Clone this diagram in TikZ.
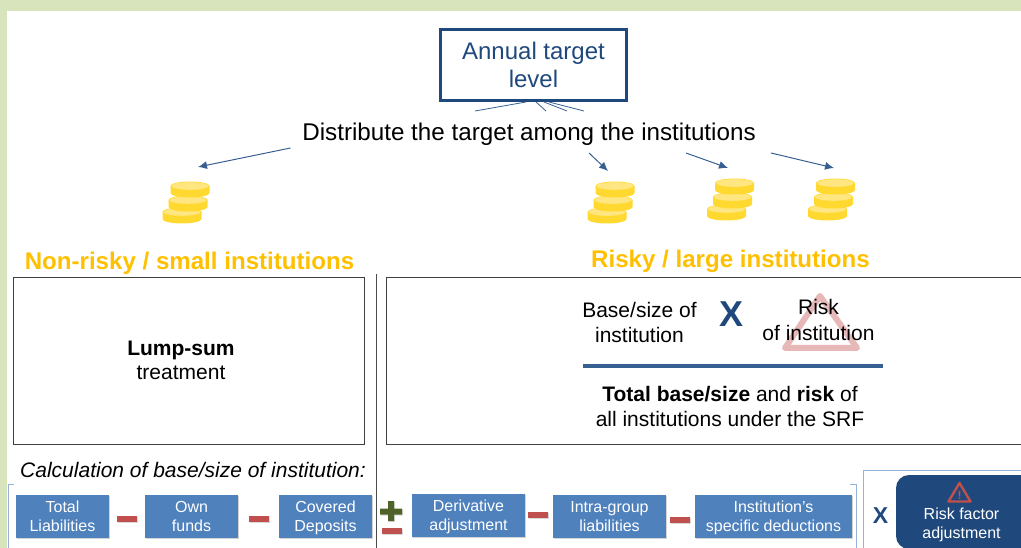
\documentclass[tikz,border=0pt]{standalone}
\usepackage{fontspec}
\setmainfont{Liberation Sans}
\usetikzlibrary{arrows.meta,shadows}

\definecolor{darkblue}{HTML}{1F497D}
\definecolor{midblue}{HTML}{4F81BD}
\definecolor{lineblue}{HTML}{376092}
\definecolor{minusred}{HTML}{C0504D}
\definecolor{plusgreen}{HTML}{4F6228}
\definecolor{headgold}{HTML}{FFC000}
\definecolor{coinbody}{HTML}{FFD92F}
\definecolor{cointop}{HTML}{FFE680}
\definecolor{bandgreen}{HTML}{D8E4BC}
\definecolor{paleblue}{HTML}{95B3D7}
\definecolor{warnpale}{HTML}{E6B9B8}

\newcommand{\fsz}[1]{\fontsize{#1}{#1}\selectfont}

\tikzset{
    termbox/.style={draw=none,fill=midblue,text=white,font=\fsz{16},align=center,inner sep=0pt,
        text depth=0pt,drop shadow={shadow xshift=1pt,shadow yshift=-1pt,opacity=0.35}},
    headtext/.style={text=headgold,font=\bfseries\fsz{24.1}},
    bodytext/.style={align=center,text depth=0pt,font=\fsz{21}},
    signbar/.style={fill=minusred,drop shadow={shadow xshift=1pt,shadow yshift=-1pt,opacity=0.3}},
    framed/.style={draw=black!75,line width=0.8pt},
    bracket/.style={draw=paleblue,line width=1pt},
    flowarrow/.style={draw=lineblue,line width=1pt,-{Latex[length=9pt,width=8pt]}},
    stub/.style={draw=lineblue,line width=0.8pt},
    coinstack/.pic={
        \foreach \dx/\dy in {-8/26,-2/14,0/0} {
            \fill[coinbody] (\dx-19.5,\dy) --++(0,7) arc[start angle=180,end angle=0,x radius=19.5,y radius=4.5] --++(0,-7) --cycle;
            \fill[coinbody] (\dx,\dy) ellipse[x radius=19.5,y radius=4.5];
            \fill[cointop] (\dx,\dy) ellipse[x radius=18.5,y radius=3.8];
        }
    }
}

\begin{document}
\begin{tikzpicture}[x=1pt,y=-1pt]
    \useasboundingbox (0,0) rectangle (1021,548);
    \clip (0,0) rectangle (1021,548);

    % page band
    \fill[bandgreen] (0,0) rectangle (1021,11);
    \fill[bandgreen] (0,0) rectangle (7,548);

    % target
    \node[draw=darkblue,line width=3.5pt,minimum width=186pt,minimum height=71pt,align=center,
        text=darkblue,font=\fsz{24},inner sep=0pt] (target) at (533.5,65) {Annual target\\[4pt]level};
    \coordinate (stubA) at (475,111);
    \coordinate (stubB) at (546,111);
    \coordinate (stubC) at (567,111);
    \coordinate (stubD) at (584,111);
    \draw[stub] (526,102)--(stubA);
    \draw[stub] (536,102)--(stubB);
    \draw[stub] (544,102)--(stubC);
    \draw[stub] (549,102)--(stubD);

    \node[font=\fsz{24.2},inner sep=0pt] (distribute) at (529,134.5) {Distribute the target among the institutions};

    % coins
    \foreach \x/\y/\n in {190/186/A,615/186/B,734.5/183/C,835.5/183/D} {
        \pic (coins\n) at (\x,\y) {coinstack};
    }
    \coordinate (tipA) at (198,167);
    \coordinate (tipB) at (608,171);
    \coordinate (tipC) at (728,168);
    \coordinate (tipD) at (834,168);
    \draw[flowarrow] (290.5,148)--(tipA);
    \draw[flowarrow] (589,153)--(tipB);
    \draw[flowarrow] (686,153)--(tipC);
    \draw[flowarrow] (771,153)--(tipD);

    % headings
    \node[headtext] (nonrisky) at (189.5,263.5) {Non-risky / small institutions};
    \node[headtext] (risky) at (730.5,261.5) {Risky / large institutions};

    % panels
    \draw[framed] (13,277) rectangle (364,444);
    \draw[framed] (1030,277)--(386,277)--(386,444)--(1030,444);
    \draw[black!70,line width=0.8pt] (376,274)--(376,548);

    \node[bodytext] (lump) at (181,360) {\textbf{Lump-sum}\\[3pt]treatment};

    \draw[warnpale,line width=6pt,line join=round] (820,296)--(857,348)--(785,348)--cycle;
    \node[bodytext,font=\fsz{21}] (base) at (639.5,322) {Base/size of\\[4pt]institution};
    \node[text=darkblue,font=\bfseries\fsz{36},inner sep=0pt] (times) at (732,314) {X};
    \node[bodytext] (risk) at (818.5,320) {Risk\\[5pt]of institution};
    \draw[lineblue,line width=4pt] (583,365.5)--(883,365.5);
    \node[bodytext] (total) at (730,406) {\textbf{Total base/size} and \textbf{risk} of\\[4pt]all institutions under the SRF};

    \node[font=\itshape\fsz{21},inner sep=0pt] (calc) at (193,470) {Calculation of base/size of institution:};

    % brackets
    \draw[bracket] (14,484)--(8,484)--(8,548);
    \draw[bracket] (850,484)--(856,484)--(856,548);
    \draw[bracket] (1030,470)--(863,470)--(863,548);

    % terms
    \foreach \x/\y/\w/\n/\t in {
        62.5/516.5/93/totalliab/{Total\\[3pt]Liabilities},
        191.5/516.5/93/ownfunds/{Own\\[3pt]funds},
        325.5/516.5/93/covered/{Covered\\[3pt]Deposits},
        468.5/515/113/derivative/{Derivative\\[3pt]adjustment},
        609.5/516.5/113/intragroup/{Intra-group\\[3pt]liabilities},
        773.5/516.5/157/specific/{Institution’s\\[3pt]specific deductions}} {
        \node[termbox,minimum width=\w pt,minimum height=43pt] (\n) at (\x,\y) {\t};
    }

    % signs
    \foreach \x/\y in {117/516,249/516,382/528,528/512,670/517} {
        \fill[signbar] (\x,\y) rectangle ++(20,6);
    }
    \fill[plusgreen,drop shadow={shadow xshift=1pt,shadow yshift=-1pt,opacity=0.3}]
        (380,508.5) rectangle (402,514.5) (388,501) rectangle (394,521);

    \node[text=darkblue,font=\bfseries\fsz{23},inner sep=0pt] (timesB) at (880.5,515.5) {X};

    % risk factor
    \node[fill=darkblue,rounded corners=13pt,minimum width=150pt,minimum height=74pt,inner sep=0pt] (riskfactor) at (971,512) {};
    \draw[minusred,line width=2.4pt,line join=round] (959.5,483)--(970.5,501.5)--(948.5,501.5)--cycle;
    \node[text=minusred,font=\bfseries\fsz{12},inner sep=0pt] (warnmark) at (959.5,495) {!};
    \node[text=white,font=\fsz{16},align=center,inner sep=0pt,text depth=0pt] (factorlabel) at (961.5,523.5) {Risk factor\\[3pt]adjustment};
\end{tikzpicture}
\end{document}
